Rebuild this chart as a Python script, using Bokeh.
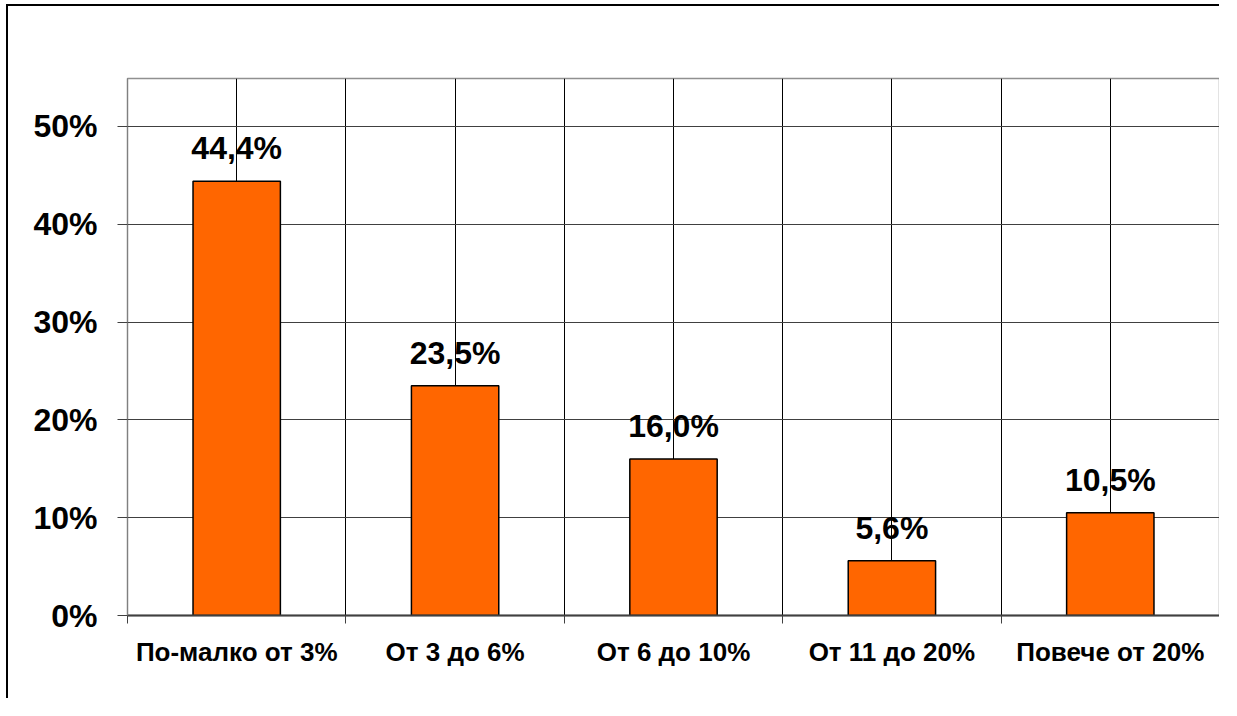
from bokeh.plotting import figure
from bokeh.models import ColumnDataSource, FixedTicker, LabelSet, Range1d, Label
from bokeh.core.properties import value
from bokeh.embed import file_html
from bokeh.resources import INLINE

categories = ["По-малко от 3%", "От 3 до 6%", "От 6 до 10%", "От 11 до 20%", "Повече от 20%"]
values = [44.4, 23.5, 16.0, 5.6, 10.5]
y_ticks = [0, 10, 20, 30, 40, 50]
y_tick_labels = ["0%", "10%", "20%", "30%", "40%", "50%"]
title_text = "Фиг.3.2.1.9. Разходи за ИРД спрямо оборота на фирмата"

FONT = "Liberation Sans"

n = len(categories)
centers = [i + 0.5 for i in range(n)]
bounds = [float(i) for i in range(n + 1)]
labels = [f"{v:.1f}".replace(".", ",") + "%" for v in values]

src = ColumnDataSource(dict(x=centers, top=values, lab=labels))

p = figure(width=1213, height=694, output_backend="svg", toolbar_location=None,
           x_range=Range1d(0, n), y_range=Range1d(0, 54.9),
           min_border_left=119, min_border_right=2, min_border_top=72, min_border_bottom=85)
p.styles = {"border-left": "2px solid black", "border-top": "2px solid black",
            "margin-left": "6px", "margin-top": "4px"}

title = Label(x=63, y=568, x_units="screen", y_units="screen", text=title_text,
              text_font=FONT, text_font_size="32px", text_font_style="bold",
              text_color="black", text_align="left", text_baseline="alphabetic")
p.add_layout(title)

p.background_fill_color = "white"
p.border_fill_color = "white"
p.outline_line_color = "#909090"
p.outline_line_width = 1.5

p.vbar(x="x", top="top", bottom=0, width=0.4, source=src, fill_color="#FF6600",
       line_color="black", line_width=1.5)

ls = LabelSet(x="x", y="top", text="lab", source=src, text_align="center",
              text_baseline="alphabetic", y_offset=22, text_font=value(FONT),
              text_font_size=value("32px"), text_font_style="bold", text_color="black")
p.add_layout(ls)

# x axis
xa = p.xaxis[0]
xa.ticker = FixedTicker(ticks=centers, minor_ticks=bounds)
xa.major_label_overrides = {c: lab for c, lab in zip(centers, categories)}
xa.major_tick_out = 0
xa.major_tick_in = 0
xa.minor_tick_out = 8
xa.minor_tick_in = 0
xa.minor_tick_line_color = "#404040"
xa.axis_line_color = "#404040"
xa.axis_line_width = 2
xa.major_label_text_font = FONT
xa.major_label_text_font_size = "26px"
xa.major_label_text_font_style = "bold"
xa.major_label_text_color = "black"
xa.major_label_standoff = 13

ya = p.yaxis[0]
ya.ticker = FixedTicker(ticks=y_ticks)
ya.major_label_overrides = {v: s for v, s in zip(y_ticks, y_tick_labels)}
ya.major_tick_out = 10
ya.major_tick_in = 0
ya.minor_tick_line_color = None
ya.major_tick_line_color = "#404040"
ya.axis_line_color = "#808080"
ya.axis_line_width = 1
ya.major_label_text_font = FONT
ya.major_label_text_font_size = "32px"
ya.major_label_text_font_style = "bold"
ya.major_label_text_color = "black"
ya.major_label_standoff = 20

p.xgrid.grid_line_color = "black"
p.xgrid.grid_line_width = 1
p.xgrid.minor_grid_line_color = "black"
p.xgrid.minor_grid_line_width = 1
p.ygrid.grid_line_color = "#404040"
p.ygrid.grid_line_width = 1.2

open("out.html", "w").write(file_html(p, INLINE))
